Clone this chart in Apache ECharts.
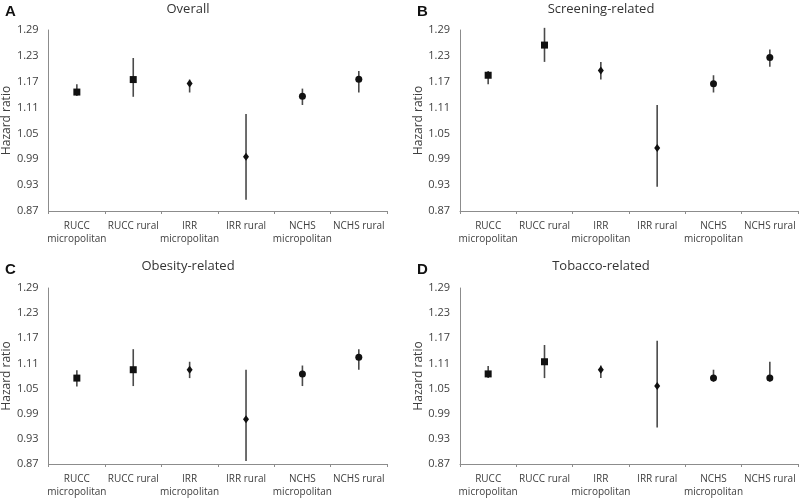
<!DOCTYPE html>
<html>
<head>
<meta charset="utf-8">
<script src="https://cdn.jsdelivr.net/npm/echarts@6/dist/echarts.min.js"></script>
<style>
  html, body { margin: 0; padding: 0; background: #fff; }
  #chart { width: 799px; height: 499px; }
</style>
</head>
<body>
<div id="chart"></div>
<script>
const categories = ["RUCC\nmicropolitan", "RUCC rural", "IRR\nmicropolitan", "IRR rural", "NCHS\nmicropolitan", "NCHS rural"];
const markers = ["rect", "rect", "diamond", "diamond", "circle", "circle"];
const yTicks = [0.87, 0.93, 0.99, 1.05, 1.11, 1.17, 1.23, 1.29];

const panelTitles = ["Overall", "Screening-related", "Obesity-related", "Tobacco-related"];
const panelLetters = ["A", "B", "C", "D"];

// hazard ratio, lower and upper CI
const overallHR = [1.146, 1.175, 1.166, 0.996, 1.136, 1.176];
const overallLo = [1.137, 1.135, 1.145, 0.896, 1.116, 1.145];
const overallHi = [1.164, 1.225, 1.175, 1.095, 1.154, 1.195];

const screeningHR = [1.185, 1.255, 1.196, 1.016, 1.165, 1.226];
const screeningLo = [1.164, 1.216, 1.175, 0.926, 1.145, 1.205];
const screeningHi = [1.195, 1.295, 1.216, 1.116, 1.185, 1.245];

const obesityHR = [1.075, 1.095, 1.095, 0.977, 1.085, 1.125];
const obesityLo = [1.055, 1.056, 1.075, 0.877, 1.056, 1.095];
const obesityHi = [1.094, 1.144, 1.114, 1.095, 1.105, 1.144];

const tobaccoHR = [1.085, 1.114, 1.095, 1.056, 1.075, 1.075];
const tobaccoLo = [1.075, 1.075, 1.075, 0.957, 1.066, 1.066];
const tobaccoHi = [1.104, 1.154, 1.105, 1.164, 1.095, 1.114];

const panels = [
  [overallHR, overallLo, overallHi],
  [screeningHR, screeningLo, screeningHi],
  [obesityHR, obesityLo, obesityHi],
  [tobaccoHR, tobaccoLo, tobaccoHi]
];

const grids = [
  { left: 48, top: 30, width: 339, height: 181 },
  { left: 460, top: 30, width: 338, height: 181 },
  { left: 48, top: 288, width: 339, height: 181 },
  { left: 460, top: 288, width: 338, height: 181 }
];

const font = "'Open Sans', 'Noto Sans', sans-serif";
const textColor = "#404040";
const axisColor = "#8c8c8c";

const chart = echarts.init(document.getElementById("chart"), null, { renderer: "canvas" });

const titles = [];
const xAxes = [];
const yAxes = [];
const series = [];

grids.forEach((g, i) => {
  titles.push({
    text: panelTitles[i],
    left: i % 2 ? 596 : 183,
    top: i < 2 ? -2 : 255,
    textAlign: "center",
    textStyle: { fontFamily: font, fontSize: 13, fontWeight: "normal", color: "#333" }
  });
  titles.push({
    text: panelLetters[i],
    left: i % 2 ? 412 : 0,
    top: i < 2 ? -1 : 257,
    textStyle: { fontFamily: "'Liberation Sans', Arial, sans-serif", fontSize: 15, fontWeight: "bold", color: "#111" }
  });

  xAxes.push({
    type: "category",
    gridIndex: i,
    data: categories,
    boundaryGap: true,
    axisLine: { lineStyle: { color: axisColor, width: 1 } },
    axisTick: { show: true, length: 3, lineStyle: { color: axisColor } },
    axisLabel: { interval: 0, margin: 9, fontFamily: font, fontSize: 10, color: textColor, lineHeight: 13 },
    splitLine: { show: false }
  });

  yAxes.push({
    type: "value",
    gridIndex: i,
    min: yTicks[0],
    max: yTicks[yTicks.length - 1],
    interval: 0.06,
    name: "Hazard ratio",
    nameLocation: "middle",
    nameGap: 34,
    nameTextStyle: { fontFamily: font, fontSize: 12, color: textColor },
    axisLine: { show: true, lineStyle: { color: axisColor, width: 1 } },
    axisTick: { show: false },
    axisLabel: { margin: 10, fontFamily: font, fontSize: 11, color: textColor, formatter: v => v.toFixed(2) },
    splitLine: { show: false }
  });

  const [hr, lo, hi] = panels[i];

  series.push({
    type: "custom",
    xAxisIndex: i,
    yAxisIndex: i,
    clip: false,
    data: categories.map((c, k) => [k, lo[k], hi[k]]),
    renderItem: (params, api) => {
      const p1 = api.coord([api.value(0), api.value(1)]);
      const p2 = api.coord([api.value(0), api.value(2)]);
      return {
        type: "line",
        shape: { x1: p1[0], y1: p1[1], x2: p2[0], y2: p2[1] },
        style: { stroke: "#4a4a4a", lineWidth: 1.6 }
      };
    },
    z: 2
  });

  series.push({
    type: "scatter",
    xAxisIndex: i,
    yAxisIndex: i,
    data: hr.map((v, k) => ({
      value: [k, v],
      symbol: markers[k],
      symbolSize: markers[k] === "diamond" ? [6, 8] : 7
    })),
    itemStyle: { color: "#111", opacity: 1 },
    z: 3
  });
});

chart.setOption({
  backgroundColor: "#fff",
  animation: false,
  title: titles,
  grid: grids,
  xAxis: xAxes,
  yAxis: yAxes,
  series: series
});

window.addEventListener("resize", () => chart.resize());
</script>
</body>
</html>
